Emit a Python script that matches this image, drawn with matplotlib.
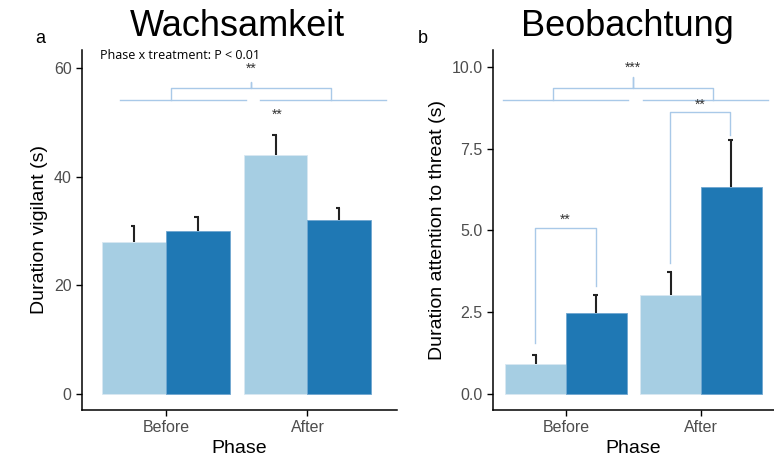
import matplotlib.pyplot as plt
import numpy as np

plt.rcParams['font.family'] = ['Liberation Sans', 'DejaVu Sans']

phases = ['Before', 'After']
# panel a: duration vigilant (s)
vig_light = [28.0, 44.0]
vig_dark = [30.0, 32.0]
vig_light_err = [2.9, 3.7]
vig_dark_err = [2.7, 2.3]
# panel b: duration attention to threat (s)
att_light = [0.92, 3.03]
att_dark = [2.48, 6.33]
att_light_err = [0.27, 0.70]
att_dark_err = [0.55, 1.44]

light = '#a6cee3'
dark = '#1f78b4'
brk = '#a9c9e8'
w = 0.45

fig = plt.figure(figsize=(7.74, 4.65), dpi=100)
ax1 = fig.add_axes([82/774, 55/465, 315/774, 360/465])
ax2 = fig.add_axes([493/774, 55/465, 281/774, 360/465])

x = np.array([1, 2])


def style(ax):
    for s in ['top', 'right']:
        ax.spines[s].set_visible(False)
    for s in ['left', 'bottom']:
        ax.spines[s].set_linewidth(1.1)
    ax.tick_params(axis='both', colors='black', labelcolor='#4d4d4d',
                   labelsize=11.5, length=4, width=1)
    ax.set_xticks(x)
    ax.set_xticklabels(phases)
    ax.set_xlabel('Phase', fontsize=14, labelpad=3)


def bars(ax, lv, dv, le, de):
    ax.bar(x - w/2, lv, w, color=light, edgecolor='#d8e8f2', linewidth=0.6, zorder=2)
    ax.bar(x + w/2, dv, w, color=dark, edgecolor='#6fa6d0', linewidth=0.6, zorder=2)
    for xs, v, e in [(x - w/2, lv, le), (x + w/2, dv, de)]:
        tops = np.array(v) + np.array(e)
        ax.vlines(xs, v, tops, color='#222222', lw=1.5, zorder=3)
        ax.hlines(tops, xs - 0.025, xs + 0.008, color='#222222', lw=1.5, zorder=3)


def brace(ax, x0, gap0, gap1, x1, b0, peak, b1, yl, yb, yp):
    ax.plot([x0, gap0], [yl, yl], color=brk, lw=1, clip_on=False)
    ax.plot([gap1, x1], [yl, yl], color=brk, lw=1, clip_on=False)
    ax.plot([b0, b0, peak, peak, peak, b1, b1], [yl, yb, yb, yp, yb, yb, yl],
            color=brk, lw=1, clip_on=False)


def bracket(ax, xa, xb, ya, yb, ytop):
    ax.plot([xa, xa, xb, xb], [ya, ytop, ytop, yb], color=brk, lw=1, clip_on=False)


# panel a
style(ax1)
bars(ax1, vig_light, vig_dark, vig_light_err, vig_dark_err)
ax1.set_xlim(0.406, 2.633)
ax1.set_ylim(-2.95, 63.4)
ax1.set_yticks([0, 20, 40, 60])
ax1.set_ylabel('Duration vigilant (s)', fontsize=14, labelpad=4)
brace(ax1, 0.675, 1.565, 1.664, 2.555, 1.035, 1.60, 2.166, 54.2, 56.4, 57.5)
ax1.text(1.60, 58.6, '**', ha='center', va='bottom', fontsize=10, color='#333333')
ax1.text(1.785, 50.2, '**', ha='center', va='bottom', fontsize=10, color='#333333')
ax1.text(0.534, 62.3, 'Phase x treatment: P < 0.01', ha='left', va='center',
         fontsize=9, family=['Open Sans', 'DejaVu Sans'])

# panel b
style(ax2)
bars(ax2, att_light, att_dark, att_light_err, att_dark_err)
ax2.set_xlim(0.459, 2.54)
ax2.set_ylim(-0.49, 10.52)
ax2.set_yticks([0, 2.5, 5, 7.5, 10])
ax2.set_yticklabels(['0.0', '2.5', '5.0', '7.5', '10.0'])
ax2.set_ylabel('Duration attention to threat (s)', fontsize=14, labelpad=4)
brace(ax2, 0.533, 1.459, 1.570, 2.496, 0.904, 1.496, 2.089, 8.99, 9.36, 9.69)
ax2.text(1.496, 9.75, '***', ha='center', va='bottom', fontsize=10, color='#333333')
bracket(ax2, 1.770, 2.215, 4.01, 7.92, 8.62)
ax2.text(1.993, 8.62, '**', ha='center', va='bottom', fontsize=10, color='#333333')
bracket(ax2, 0.770, 1.222, 1.56, 3.30, 5.08)
ax2.text(0.996, 5.1, '**', ha='center', va='bottom', fontsize=10, color='#333333')

fig.text(237/774, 1 - 26/465, 'Wachsamkeit', ha='center', va='center', fontsize=26)
fig.text(627/774, 1 - 26/465, 'Beobachtung', ha='center', va='center', fontsize=26)
fig.text(40/774, 1 - 38/465, 'a', ha='center', va='center', fontsize=13)
fig.text(423/774, 1 - 38/465, 'b', ha='center', va='center', fontsize=13)

plt.savefig('out.png', dpi=100)
